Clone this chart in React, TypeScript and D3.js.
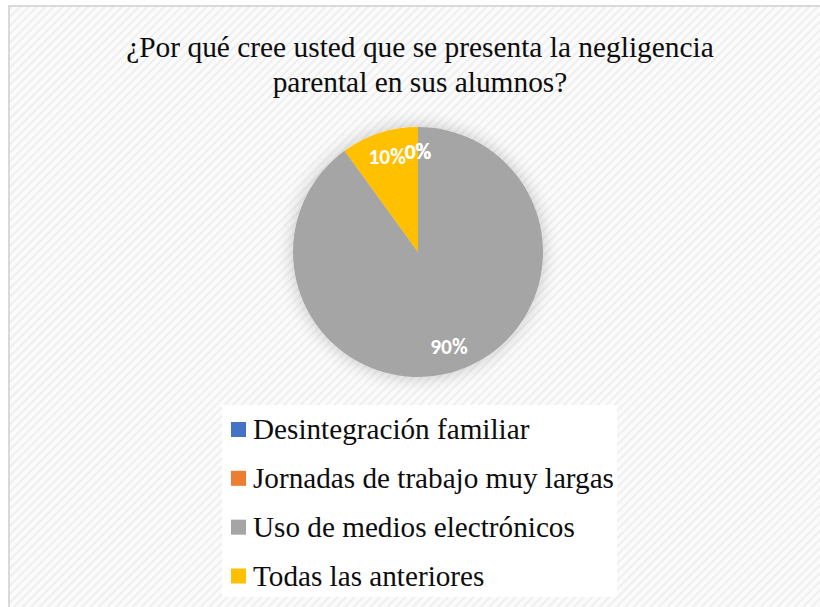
import React from "react";
import * as d3 from "d3";

const titleLines = ["¿Por qué cree usted que se presenta la negligencia", "parental en sus alumnos?"];
const categories = ["Desintegración familiar", "Jornadas de trabajo muy largas", "Uso de medios electrónicos", "Todas las anteriores"];
const values = [0, 0, 90, 10];
const colors = ["#4472C4", "#ED7D31", "#A5A5A5", "#FFC000"];

const W = 820, H = 607;
const cx = 418, cy = 252, R = 125;

export default function App() {
  const total = d3.sum(values);
  const pie = d3.pie<number>().sort(null).value((d) => d)(values);
  const arc = d3.arc<d3.PieArcDatum<number>>().innerRadius(0).outerRadius(R);
  const labelArc = d3.arc<d3.PieArcDatum<number>>().innerRadius(R * 0.8).outerRadius(R * 0.8);
  const legendY = d3.scalePoint<string>().domain(categories).range([429.5, 576]);
  const serif = "'Liberation Serif', 'Times New Roman', serif";
  return (
    <svg width={W} height={H} style={{ position: "absolute", left: 0, top: 0 }}>
      <defs>
        <pattern id="hatch" width="6" height="6" patternUnits="userSpaceOnUse" patternTransform="rotate(45)">
          <rect width="6" height="6" fill="#fbfbfb" />
          <rect width="2" height="6" fill="#efefef" />
        </pattern>
        <filter id="glow" x="-30%" y="-30%" width="160%" height="160%">
          <feGaussianBlur in="SourceAlpha" stdDeviation="9" />
          <feComponentTransfer>
            <feFuncA type="linear" slope="0.22" />
          </feComponentTransfer>
          <feMerge>
            <feMergeNode />
            <feMergeNode in="SourceGraphic" />
          </feMerge>
        </filter>
      </defs>
      <rect x={0} y={0} width={W} height={H} fill="#ffffff" />
      <rect x={9} y={6} width={W + 10} height={H + 10} fill="url(#hatch)" stroke="#d9d9d9" strokeWidth={2} />
      {titleLines.map((t, i) => (
        <text key={i} x={420} y={57 + i * 35} textAnchor="middle" fontFamily={serif} fontSize={29.4} fill="#0d0d0d">
          {t}
        </text>
      ))}
      <g transform={`translate(${cx},${cy})`}>
        <g filter="url(#glow)">
          {pie.map((d, i) => (
            <path key={i} d={arc(d) || ""} fill={colors[i]} />
          ))}
        </g>
        {pie.map((d, i) => {
          const [x, y] = labelArc.centroid(d);
          return (
            <text key={i} x={x} y={y} textAnchor="middle" dominantBaseline="central" fontFamily="Carlito, Lato, sans-serif" fontWeight="bold" fontSize={21.5} fill="#ffffff">
              {`${Math.round((d.value / total) * 100)}%`}
            </text>
          );
        })}
      </g>
      <rect x={222} y={405} width={395} height={192} fill="#ffffff" />
      {categories.map((c, i) => {
        const y = legendY(c) as number;
        return (
          <g key={c}>
            <rect x={231} y={y - 7.5} width={15} height={15} fill={colors[i]} />
            <text x={253} y={y + 9.5} fontFamily={serif} fontSize={29.2} fill="#0d0d0d">
              {c}
            </text>
          </g>
        );
      })}
    </svg>
  );
}
